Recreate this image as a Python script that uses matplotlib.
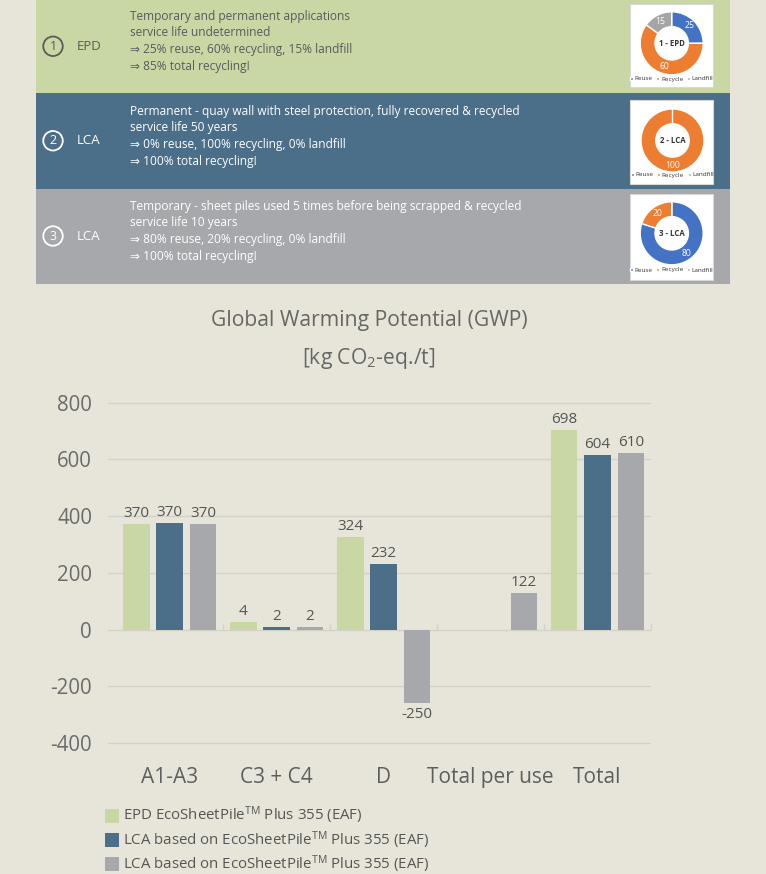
import matplotlib
matplotlib.use('Agg')
import matplotlib.pyplot as plt
from matplotlib.patches import Rectangle, Ellipse

# ---------------- data ----------------
categories = ['A1-A3', 'C3 + C4', 'D', 'Total per use', 'Total']
series_names = [
    r'EPD EcoSheetPile$^{\mathrm{TM}}$ Plus 355 (EAF)',
    r'LCA based on EcoSheetPile$^{\mathrm{TM}}$ Plus 355 (EAF)',
    r'LCA based on EcoSheetPile$^{\mathrm{TM}}$ Plus 355 (EAF)',
]
# value labels as printed
epd_labels = [370, 4, 324, None, 698]
lca2_labels = [370, 2, 232, None, 604]
lca3_labels = [370, 2, -250, 122, 610]
# bar heights as drawn in the picture
epd_heights = [372, 27, 327, 0, 703]
lca2_heights = [375, 10, 230, 0, 615]
lca3_heights = [371, 10, -260, 130, 623]

yticks = [-400, -200, 0, 200, 400, 600, 800]
ytick_labels = ['-400', '-200', '0', '200', '400', '600', '800']

title_line1 = 'Global Warming Potential (GWP)'
title_line2 = r'[kg CO$_2$-eq./t]'

panel_numbers = ['1', '2', '3']
panel_tags = ['EPD', 'LCA', 'LCA']
panel_lines = [
    ['Temporary and permanent applications',
     'service life undetermined',
     '\u21d2 25% reuse, 60% recycling, 15% landfill',
     '\u21d2 85% total recycling!'],
    ['Permanent - quay wall with steel protection, fully recovered & recycled',
     'service life 50 years',
     '\u21d2 0% reuse, 100% recycling, 0% landfill',
     '\u21d2 100% total recycling!'],
    ['Temporary - sheet piles used 5 times before being scrapped & recycled',
     'service life 10 years',
     '\u21d2 80% reuse, 20% recycling, 0% landfill',
     '\u21d2 100% total recycling!'],
]
donut_names = ['Reuse', 'Recycle', 'Landfill']
donut_titles = ['1 - EPD', '2 - LCA', '3 - LCA']
donut_reuse = [25, 0, 80]
donut_recycle = [60, 100, 20]
donut_landfill = [15, 0, 0]

# ---------------- style ----------------
bg = '#E7E5DA'
green = '#C9D7A5'
blue = '#4B6E89'
gray = '#A7A8AC'
panel_colors = [green, blue, gray]
panel_text_colors = ['#5A5A5A', 'white', 'white']
donut_colors = ['#4472C4', '#ED7D31', '#A5A5A5']
grid_color = '#D4D2C7'

plt.rcParams['font.family'] = ['Open Sans', 'DejaVu Sans']
plt.rcParams['mathtext.fontset'] = 'custom'
plt.rcParams['mathtext.rm'] = 'Open Sans'
plt.rcParams['mathtext.it'] = 'Open Sans:italic'
plt.rcParams['mathtext.bf'] = 'Open Sans:bold'

W, H = 766, 874
fig = plt.figure(figsize=(W / 100, H / 100), dpi=100, facecolor=bg)


def fx(x):
    return x / W


def fy(y):
    return 1 - y / H


# ---------------- top panels ----------------
panel_bounds = [(0, 93.5), (93.5, 189), (189, 284)]
line_offsets = [-29.5, -13.5, 3.5, 20.5]
for i, (top, bot) in enumerate(panel_bounds):
    fig.patches.append(Rectangle((fx(36), fy(bot)), fx(730) - fx(36), fy(top) - fy(bot),
                                 transform=fig.transFigure, facecolor=panel_colors[i],
                                 edgecolor='none', zorder=-3))
    cy = (top + bot) / 2 - 0.5
    tc = panel_text_colors[i]
    fig.patches.append(Ellipse((fx(53), fy(cy)), 19.5 / W, 19.5 / H, transform=fig.transFigure,
                               fill=False, edgecolor=tc, linewidth=1.3, zorder=2))
    fig.text(fx(53), fy(cy), panel_numbers[i], ha='center', va='center',
             fontsize=9, color=tc)
    fig.text(fx(77), fy(cy), panel_tags[i], ha='left', va='center',
             fontsize=9.5, color=tc)
    for k, line in enumerate(panel_lines[i]):
        fig.text(fx(129.5), fy(cy + line_offsets[k]), line, ha='left', va='center',
                 fontsize=8.6, color=tc, family=['Open Sans', 'DejaVu Sans'])

# ---------------- donuts ----------------
box_bounds = [(3.5, 87), (99.5, 184), (194, 279.5)]
donut_centers = [(671.7, 43.3), (672.5, 140.5), (671.7, 233.3)]
legend_ys = [79, 175, 270]
R = 31.5
for i in range(3):
    top, bot = box_bounds[i]
    fig.patches.append(Rectangle((fx(630), fy(bot)), fx(713) - fx(630), fy(top) - fy(bot),
                                 transform=fig.transFigure, facecolor='white',
                                 edgecolor='#D8D8D8', linewidth=0.8, zorder=-1))
    cx, cy = donut_centers[i]
    dax = fig.add_axes([fx(cx - R), fy(cy + R), 2 * R / W, 2 * R / H])
    vals = [donut_reuse[i], donut_recycle[i], donut_landfill[i]]
    total = sum(vals)
    wedges, _, autotexts = dax.pie(
        vals, colors=donut_colors, startangle=90, counterclock=False,
        wedgeprops=dict(width=0.47, edgecolor='white', linewidth=1.0),
        autopct=lambda p, t=total: f'{p * t / 100:.0f}' if p > 0 else '',
        pctdistance=0.78, textprops=dict(color='white', fontsize=6.2))
    dax.text(0, 0, donut_titles[i], ha='center', va='center', fontsize=5.6,
             fontweight='bold', color='#333333')
    dax.set_xlim(-1, 1)
    dax.set_ylim(-1, 1)
    ly = 0.5 - (legend_ys[i] - cy) / (2 * R)
    dax.legend(wedges, donut_names, loc='center', bbox_to_anchor=(0.5, ly), ncol=3,
               fontsize=4.6, frameon=False, handlelength=0.45, handleheight=0.45,
               handletextpad=0.25, columnspacing=0.6, borderpad=0, labelcolor='#333333')

# ---------------- title ----------------
fig.text(fx(369), fy(320.5), title_line1, ha='center', va='center', fontsize=15.2, color='#666666')
fig.text(fx(369), fy(358.5), title_line2, ha='center', va='center', fontsize=15.2, color='#666666')

# ---------------- bar chart ----------------
ymin, ymax = -420, 820
px_top = 629.5 - ymax * 0.2837
px_bot = 629.5 - ymin * 0.2837
ax = fig.add_axes([fx(108), fy(px_bot), (651 - 108) / W, (px_bot - px_top) / H])
ax.set_facecolor('none')
for s in ax.spines.values():
    s.set_visible(False)

xs = list(range(len(categories)))
series_heights = [epd_heights, lca2_heights, lca3_heights]
series_labels = [epd_labels, lca2_labels, lca3_labels]
series_colors = [green, blue, gray]
offset = 0.313
width = 0.252
for j in range(3):
    pos = [x + (j - 1) * offset for x in xs]
    ax.bar(pos, series_heights[j], width=width, color=series_colors[j], zorder=3)
    for p, h, lab in zip(pos, series_heights[j], series_labels[j]):
        if lab is None:
            continue
        if h >= 0:
            ax.annotate(str(lab), (p, h), xytext=(0, 2), textcoords='offset points',
                        ha='center', va='bottom', fontsize=11, color='#555555')
        else:
            ax.annotate(str(lab), (p, h), xytext=(0, -3), textcoords='offset points',
                        ha='center', va='top', fontsize=11, color='#555555')

ax.set_xlim(-0.575, 4.5)
ax.set_ylim(ymin, ymax)
ax.set_yticks(yticks)
ax.set_yticklabels(ytick_labels)
ax.yaxis.grid(True, color=grid_color, linewidth=1, zorder=0)
ax.set_axisbelow(True)
ax.set_xticks(xs)
ax.set_xticklabels(categories)
ax.tick_params(axis='y', length=0, pad=11.5, labelsize=14.8, labelcolor='#6B6B6B')
ax.tick_params(axis='x', length=0, pad=13, labelsize=15, labelcolor='#5E5E5E')
ax.vlines([0.5, 1.5, 2.5, 3.5, 4.5], 0, 18, color=grid_color, linewidth=1, zorder=1,
          clip_on=False)

# ---------------- legend ----------------
leg_ys = [815.5, 840, 864]
for j in range(3):
    fig.patches.append(Rectangle((fx(105), fy(leg_ys[j] + 7)), 14 / W, 14 / H,
                                 transform=fig.transFigure, facecolor=series_colors[j],
                                 edgecolor='none'))
    fig.text(fx(123), fy(leg_ys[j]), series_names[j], ha='left', va='center',
             fontsize=10.8, color='#555555')

fig.savefig('out.png', dpi=100, facecolor=bg)
